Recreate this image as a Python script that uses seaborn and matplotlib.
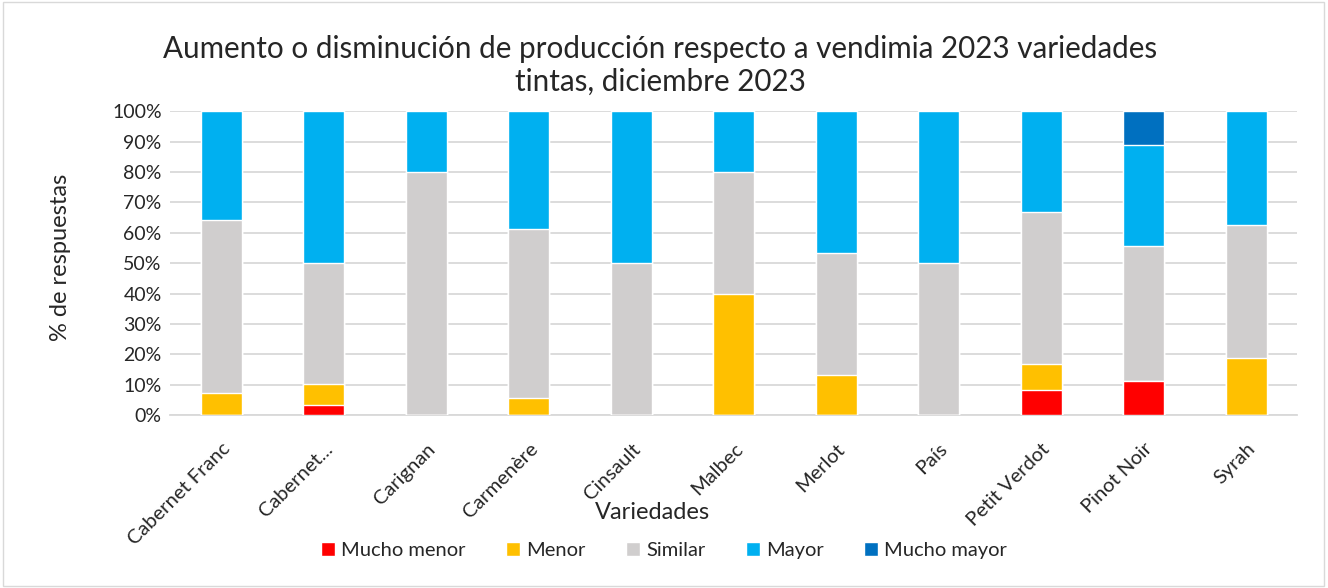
import numpy as np
import pandas as pd
import matplotlib.pyplot as plt
import seaborn as sns
from matplotlib.patches import Patch, Rectangle

# data (percent of responses)
variedades = ['Cabernet Franc', 'Cabernet...', 'Carignan', 'Carmenère', 'Cinsault',
              'Malbec', 'Merlot', 'País', 'Petit Verdot', 'Pinot Noir', 'Syrah']
mucho_menor = [0, 3.45, 0, 0, 0, 0, 0, 0, 8.33, 11.11, 0]
menor = [7.14, 6.90, 0, 5.56, 0, 40, 13.33, 0, 8.33, 0, 18.75]
similar = [57.14, 39.65, 80, 55.56, 50, 40, 40, 50, 50, 44.44, 43.75]
mayor = [35.72, 50, 20, 38.88, 50, 20, 46.67, 50, 33.34, 33.34, 37.5]
mucho_mayor = [0, 0, 0, 0, 0, 0, 0, 0, 0, 11.11, 0]

categorias = ['Mucho menor', 'Menor', 'Similar', 'Mayor', 'Mucho mayor']
colores = ['#FF0000', '#FFC000', '#D0CECE', '#00B0F0', '#0070C0']

df = pd.DataFrame({'Variedad': variedades, 'Mucho menor': mucho_menor, 'Menor': menor,
                   'Similar': similar, 'Mayor': mayor, 'Mucho mayor': mucho_mayor})
cum = df[categorias].cumsum(axis=1)

sns.set_style('white')
plt.rcParams['font.family'] = ['Lato', 'DejaVu Sans']

fig = plt.figure(figsize=(13.28, 5.88), dpi=100)
ax = fig.add_axes([0.128, 0.294, 0.849, 0.517])

# stacked bars: draw cumulative totals from the top layer down
for cat, col in reversed(list(zip(categorias, colores))):
    sns.barplot(x=df['Variedad'], y=cum[cat], color=col, width=0.4,
                saturation=1, ax=ax, zorder=3)

ax.set_ylim(0, 100)
ax.set_xlim(-0.5, len(variedades) - 0.5)
ax.set_yticks(np.arange(0, 101, 10))
ax.set_yticklabels([f'{v}%' for v in range(0, 101, 10)], fontsize=14)
ax.set_xticks(range(len(variedades)))
ax.set_xticklabels(variedades, rotation=45, ha='right', va='top',
                   rotation_mode='anchor', fontsize=14.5)
ax.tick_params(axis='y', length=0, pad=6)
ax.tick_params(axis='x', length=0, pad=18)
ax.yaxis.grid(True, color='#D9D9D9', linewidth=1.3, zorder=0)
ax.set_axisbelow(True)
for s in ['top', 'right', 'left']:
    ax.spines[s].set_visible(False)
ax.spines['bottom'].set_color('#D9D9D9')
ax.spines['bottom'].set_linewidth(1.3)
ax.set_xlabel('')
ax.set_ylabel('% de respuestas', fontsize=17)
ax.yaxis.set_label_coords(-0.088, 0.52)

fig.text(0.497, 0.889, 'Aumento o disminución de producción respecto a vendimia 2023 variedades\ntintas, diciembre 2023',
         ha='center', va='center', fontsize=21.3, linespacing=1.2)
fig.text(0.491, 0.128, 'Variedades', ha='center', va='center', fontsize=17)

handles = [Patch(facecolor=c, label=l) for l, c in zip(categorias, colores)]
fig.legend(handles=handles, loc='center', bbox_to_anchor=(0.5, 0.064), ncol=5, frameon=False,
           fontsize=14.5, handlelength=0.7, handleheight=0.7, handletextpad=0.3, columnspacing=2.0)

fig.add_artist(Rectangle((0.002, 0.003), 0.995, 0.994, transform=fig.transFigure,
                         fill=False, edgecolor='#D9D9D9', linewidth=1))

fig.savefig('out.png', dpi=100)
